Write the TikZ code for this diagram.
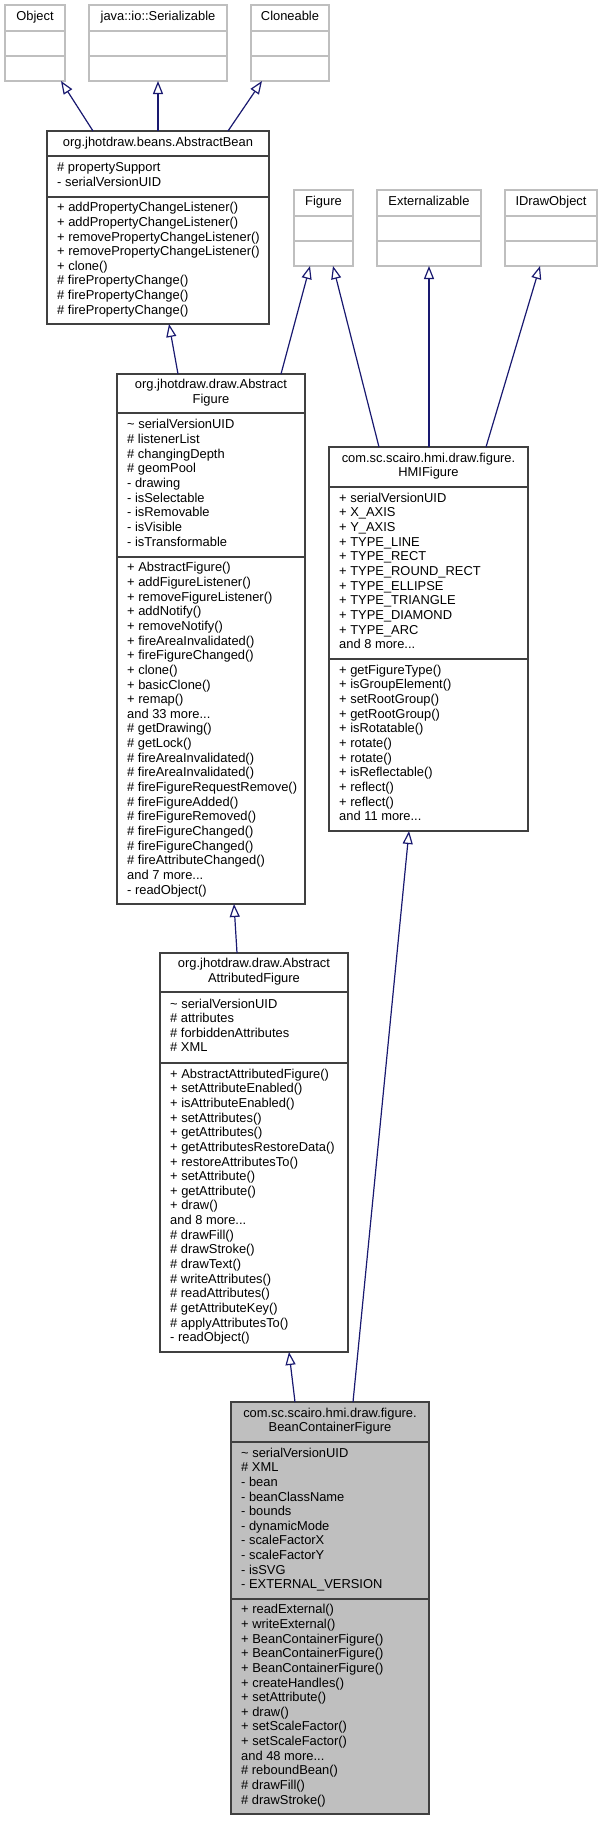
\documentclass[tikz,border=0pt]{standalone}
\usepackage{fontspec}
\newfontfamily\umlfont{Liberation Sans}
\usepackage{tikz}
\usetikzlibrary{arrows.meta,positioning}
\definecolor{edgeblue}{HTML}{191970}
\definecolor{extgray}{HTML}{BFBFBF}
\definecolor{boxline}{HTML}{404040}
\definecolor{selfill}{HTML}{BFBFBF}

\begin{document}
\begin{tikzpicture}[x=1pt, y=-1pt,
  box/.style={draw=boxline, line width=1.3pt, fill=white, inner sep=0pt, outer sep=0pt},
  extbox/.style={box, draw=extgray},
  curbox/.style={box, fill=selfill},
  ttl/.style={font=\umlfont\fontsize{12.9}{14.65}\selectfont, align=center,
    execute at begin node=\strut, execute at end node=\strut},
  mbr/.style={font=\umlfont\fontsize{12.9}{14.65}\selectfont, align=left, inner sep=0pt, anchor=west,
    execute at begin node=\strut, execute at end node=\strut},
  gen/.style={edgeblue, line width=1.2pt, -{Triangle[open, length=13pt, width=10pt]}}]

\useasboundingbox (0,0) rectangle (603,1821);

% ================= external classes (top row) =================
\node[extbox, ttl, minimum width=60pt, minimum height=26pt, anchor=north west] (objT) at (5,5) {Object};
\node[extbox, minimum width=60pt, minimum height=25pt, below=0pt of objT] (objA) {};
\node[extbox, minimum width=60pt, minimum height=25pt, below=0pt of objA] (objM) {};

\node[extbox, ttl, minimum width=138pt, minimum height=26pt, anchor=north west] (serT) at (89,5) {java::io::Serializable};
\node[extbox, minimum width=138pt, minimum height=25pt, below=0pt of serT] (serA) {};
\node[extbox, minimum width=138pt, minimum height=25pt, below=0pt of serA] (serM) {};

\node[extbox, ttl, minimum width=78pt, minimum height=26pt, anchor=north west] (cloT) at (251,5) {Cloneable};
\node[extbox, minimum width=78pt, minimum height=25pt, below=0pt of cloT] (cloA) {};
\node[extbox, minimum width=78pt, minimum height=25pt, below=0pt of cloA] (cloM) {};

% ================= external classes (second row) =================
\node[extbox, ttl, minimum width=59pt, minimum height=26pt, anchor=north west] (figT) at (294,190) {Figure};
\node[extbox, minimum width=59pt, minimum height=25pt, below=0pt of figT] (figA) {};
\node[extbox, minimum width=59pt, minimum height=25pt, below=0pt of figA] (figM) {};

\node[extbox, ttl, minimum width=104pt, minimum height=26pt, anchor=north west] (extT) at (377,190) {Externalizable};
\node[extbox, minimum width=104pt, minimum height=25pt, below=0pt of extT] (extA) {};
\node[extbox, minimum width=104pt, minimum height=25pt, below=0pt of extA] (extM) {};

\node[extbox, ttl, minimum width=92pt, minimum height=26pt, anchor=north west] (idoT) at (505,190) {IDrawObject};
\node[extbox, minimum width=92pt, minimum height=25pt, below=0pt of idoT] (idoA) {};
\node[extbox, minimum width=92pt, minimum height=25pt, below=0pt of idoA] (idoM) {};

% ================= AbstractBean =================
\node[box, ttl, minimum width=222pt, minimum height=25pt, anchor=north west] (beanT) at (47,131) {org.jhotdraw.beans.AbstractBean};
\node[box, minimum width=222pt, minimum height=41pt, below=0pt of beanT] (beanA) {};
\node[box, minimum width=222pt, minimum height=127pt, below=0pt of beanA] (beanM) {};
\node[mbr] (beanAt) at ([xshift=10pt]beanA.west) {\# propertySupport\\- serialVersionUID};
\node[mbr] (beanMt) at ([xshift=10pt]beanM.west) {+ addPropertyChangeListener()\\+ addPropertyChangeListener()\\
  + removePropertyChangeListener()\\+ removePropertyChangeListener()\\+ clone()\\
  \# firePropertyChange()\\\# firePropertyChange()\\\# firePropertyChange()};

% ================= AbstractFigure =================
\node[box, ttl, minimum width=188pt, minimum height=39pt, anchor=north west] (afT) at (117,374) {org.jhotdraw.draw.Abstract\\Figure};
\node[box, minimum width=188pt, minimum height=144pt, below=0pt of afT] (afA) {};
\node[box, minimum width=188pt, minimum height=347pt, below=0pt of afA] (afM) {};
\node[mbr] (afAt) at ([xshift=10pt]afA.west) {\textasciitilde{} serialVersionUID\\\# listenerList\\\# changingDepth\\
  \# geomPool\\- drawing\\- isSelectable\\- isRemovable\\- isVisible\\- isTransformable};
\node[mbr] (afMt) at ([xshift=10pt]afM.west) {+ AbstractFigure()\\+ addFigureListener()\\+ removeFigureListener()\\
  + addNotify()\\+ removeNotify()\\+ fireAreaInvalidated()\\+ fireFigureChanged()\\+ clone()\\
  + basicClone()\\+ remap()\\and 33 more...\\\# getDrawing()\\\# getLock()\\\# fireAreaInvalidated()\\
  \# fireAreaInvalidated()\\\# fireFigureRequestRemove()\\\# fireFigureAdded()\\\# fireFigureRemoved()\\
  \# fireFigureChanged()\\\# fireFigureChanged()\\\# fireAttributeChanged()\\and 7 more...\\- readObject()};

% ================= HMIFigure =================
\node[box, ttl, minimum width=199pt, minimum height=40pt, anchor=north west] (hmiT) at (329,447) {com.sc.scairo.hmi.draw.figure.\\HMIFigure};
\node[box, minimum width=199pt, minimum height=172pt, below=0pt of hmiT] (hmiA) {};
\node[box, minimum width=199pt, minimum height=172pt, below=0pt of hmiA] (hmiM) {};
\node[mbr] (hmiAt) at ([xshift=10pt]hmiA.west) {+ serialVersionUID\\+ X\_AXIS\\+ Y\_AXIS\\+ TYPE\_LINE\\+ TYPE\_RECT\\
  + TYPE\_ROUND\_RECT\\+ TYPE\_ELLIPSE\\+ TYPE\_TRIANGLE\\+ TYPE\_DIAMOND\\+ TYPE\_ARC\\and 8 more...};
\node[mbr] (hmiMt) at ([xshift=10pt]hmiM.west) {+ getFigureType()\\+ isGroupElement()\\+ setRootGroup()\\
  + getRootGroup()\\+ isRotatable()\\+ rotate()\\+ rotate()\\+ isReflectable()\\+ reflect()\\+ reflect()\\and 11 more...};

% ================= AbstractAttributedFigure =================
\node[box, ttl, minimum width=188pt, minimum height=39pt, anchor=north west] (aafT) at (160,953) {org.jhotdraw.draw.Abstract\\AttributedFigure};
\node[box, minimum width=188pt, minimum height=71pt, below=0pt of aafT] (aafA) {};
\node[box, minimum width=188pt, minimum height=289pt, below=0pt of aafA] (aafM) {};
\node[mbr] (aafAt) at ([xshift=10pt]aafA.west) {\textasciitilde{} serialVersionUID\\\# attributes\\\# forbiddenAttributes\\\# XML};
\node[mbr] (aafMt) at ([xshift=10pt]aafM.west) {+ AbstractAttributedFigure()\\+ setAttributeEnabled()\\+ isAttributeEnabled()\\
  + setAttributes()\\+ getAttributes()\\+ getAttributesRestoreData()\\+ restoreAttributesTo()\\+ setAttribute()\\
  + getAttribute()\\+ draw()\\and 8 more...\\\# drawFill()\\\# drawStroke()\\\# drawText()\\\# writeAttributes()\\
  \# readAttributes()\\\# getAttributeKey()\\\# applyAttributesTo()\\- readObject()};

% ================= BeanContainerFigure =================
\node[curbox, ttl, minimum width=198pt, minimum height=40pt, anchor=north west] (bcfT) at (231,1402) {com.sc.scairo.hmi.draw.figure.\\BeanContainerFigure};
\node[curbox, minimum width=198pt, minimum height=157pt, below=0pt of bcfT] (bcfA) {};
\node[curbox, minimum width=198pt, minimum height=215pt, below=0pt of bcfA] (bcfM) {};
\node[mbr] (bcfAt) at ([xshift=10pt]bcfA.west) {\textasciitilde{} serialVersionUID\\\# XML\\- bean\\- beanClassName\\
  - bounds\\- dynamicMode\\- scaleFactorX\\- scaleFactorY\\- isSVG\\- EXTERNAL\_VERSION};
\node[mbr] (bcfMt) at ([xshift=10pt]bcfM.west) {+ readExternal()\\+ writeExternal()\\+ BeanContainerFigure()\\
  + BeanContainerFigure()\\+ BeanContainerFigure()\\+ createHandles()\\+ setAttribute()\\+ draw()\\
  + setScaleFactor()\\+ setScaleFactor()\\and 48 more...\\\# reboundBean()\\\# drawFill()\\\# drawStroke()};

% ================= generalisations =================
\draw[gen] ([xshift=46pt]beanT.north west) -- ([xshift=56pt]objM.south west);
\draw[gen] ([xshift=111pt]beanT.north west) -- ([xshift=69pt]serM.south west);
\draw[gen] ([xshift=181pt]beanT.north west) -- ([xshift=11pt]cloM.south west);
\draw[gen] ([xshift=61pt]afT.north west) -- ([xshift=122pt]beanM.south west);
\draw[gen] ([xshift=164pt]afT.north west) -- ([xshift=16pt]figM.south west);
\draw[gen] ([xshift=50pt]hmiT.north west) -- ([xshift=39pt]figM.south west);
\draw[gen] ([xshift=100pt]hmiT.north west) -- ([xshift=52pt]extM.south west);
\draw[gen] ([xshift=157pt]hmiT.north west) -- ([xshift=35pt]idoM.south west);
\draw[gen] ([xshift=77pt]aafT.north west) -- ([xshift=117pt]afM.south west);
\draw[gen] ([xshift=64pt]bcfT.north west) -- ([xshift=129pt]aafM.south west);
\draw[gen] ([xshift=122pt]bcfT.north west) -- ([xshift=80pt]hmiM.south west);

\end{tikzpicture}
\end{document}
